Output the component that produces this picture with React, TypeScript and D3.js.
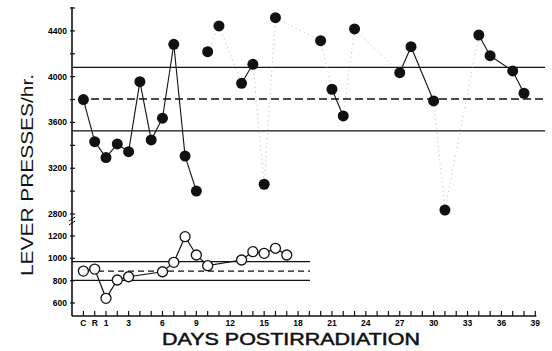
import * as d3 from 'd3';

// day positions: C = -1, R = 0
const tickDays = d3.range(-1, 40);
const tickLabels = ['C', 'R', '1', '3', '6', '9', '12', '15', '18', '21', '24', '27', '30', '33', '36', '39'];
const labelDays = [-1, 0, 1, 3, 6, 9, 12, 15, 18, 21, 24, 27, 30, 33, 36, 39];

// irradiated group (filled circles)
const topDays = [-1, 0, 1, 2, 3, 4, 5, 6, 7, 8, 9, 10, 11, 13, 14, 15, 16, 20, 21, 22, 23, 27, 28, 30, 31, 34, 35, 37, 38];
const topValues = [3800, 3432, 3293, 3412, 3345, 3956, 3447, 3637, 4283, 3306, 3000, 4218, 4443, 3942, 4108, 3060, 4515, 4314, 3890, 3657, 4417, 4035, 4262, 3788, 2835, 4364, 4183, 4050, 3855];
// style of the link from point i to point i+1 (s = solid, f = faint, n = none)
const topLinks = ['s', 's', 's', 's', 's', 's', 's', 's', 's', 's', 'n', 'f', 'f', 's', 'f', 'f', 'f', 'f', 's', 'f', 'f', 's', 's', 'f', 'f', 's', 's', 's'];
const topBands = [4082, 3805, 3526];

// control group (open circles)
const lowDays = [-1, 0, 1, 2, 3, 6, 7, 8, 9, 10, 13, 14, 15, 16, 17];
const lowValues = [886, 904, 642, 806, 835, 880, 964, 1194, 1030, 934, 985, 1060, 1045, 1090, 1030];
const lowBands = [970, 886, 803];

const topTicks = [4400, 4000, 3600, 3200, 2800];
const topMinor = [4600, 4200, 3800, 3400, 3000];
const lowTicks = [1200, 1000, 800, 600];

export default function App() {
  const width = 552;
  const height = 351;
  const axisX = 72;
  const axisY = 316;

  const x = d3.scaleLinear().domain([-1, 39]).range([83.4, 535.3]);
  const yTop = d3.scaleLinear().domain([2800, 4600]).range([214, 8]);
  const yLow = d3.scaleLinear().domain([600, 1200]).range([303, 236]);

  const lowLine = d3.line<number>()
    .x((_, i) => x(lowDays[i]))
    .y((v) => yLow(v));

  const tickFont = { fontFamily: 'Liberation Sans, Arial, sans-serif', fontWeight: 700, fontSize: '8.5px' };

  return (
    <svg width={width} height={height} style={{ position: 'absolute', left: 0, top: 0, background: '#fff' }}>
      {/* axes */}
      <line x1={axisX} y1={7} x2={axisX} y2={axisY} stroke="#111" strokeWidth={1.6} />
      <line x1={axisX} y1={axisY} x2={x(39) + 1} y2={axisY} stroke="#111" strokeWidth={1.6} />
      {/* axis break */}
      <line x1={axisX - 3} y1={221} x2={axisX + 3} y2={217} stroke="#111" strokeWidth={1} />
      <line x1={axisX - 3} y1={225} x2={axisX + 3} y2={221} stroke="#111" strokeWidth={1} />

      {topTicks.map((t) => (
        <g key={t}>
          <line x1={axisX - 2} x2={axisX + 3} y1={yTop(t)} y2={yTop(t)} stroke="#111" strokeWidth={1.2} />
          <text x={axisX - 5} y={yTop(t)} dy="0.35em" textAnchor="end" style={tickFont}>{t}</text>
        </g>
      ))}
      {topMinor.map((t) => (
        <line key={t} x1={axisX - 2} x2={axisX + 3} y1={yTop(t)} y2={yTop(t)} stroke="#111" strokeWidth={1.2} />
      ))}
      {lowTicks.map((t) => (
        <g key={t}>
          <line x1={axisX - 2} x2={axisX + 3} y1={yLow(t)} y2={yLow(t)} stroke="#111" strokeWidth={1.2} />
          <text x={axisX - 5} y={yLow(t)} dy="0.35em" textAnchor="end" style={tickFont}>{t}</text>
        </g>
      ))}

      {tickDays.map((d) => (
        <line key={d} x1={x(d)} x2={x(d)} y1={axisY} y2={axisY - 5} stroke="#111" strokeWidth={1.2} />
      ))}
      {labelDays.map((d, i) => (
        <text key={d} x={x(d)} y={axisY + 10} textAnchor="middle" style={tickFont}>{tickLabels[i]}</text>
      ))}

      {/* reference bands, irradiated */}
      <line x1={axisX} x2={545} y1={yTop(topBands[0])} y2={yTop(topBands[0])} stroke="#111" strokeWidth={1.3} />
      <line x1={91} x2={545} y1={yTop(topBands[1])} y2={yTop(topBands[1])} stroke="#111" strokeWidth={1.3} strokeDasharray="8,4" />
      <line x1={axisX} x2={545} y1={yTop(topBands[2])} y2={yTop(topBands[2])} stroke="#111" strokeWidth={1.3} />

      {/* reference bands, control */}
      <line x1={axisX} x2={310} y1={yLow(lowBands[0])} y2={yLow(lowBands[0])} stroke="#111" strokeWidth={1.3} />
      <line x1={98} x2={310} y1={yLow(lowBands[1])} y2={yLow(lowBands[1])} stroke="#111" strokeWidth={1.3} strokeDasharray="6,4" />
      <line x1={axisX} x2={310} y1={yLow(lowBands[2])} y2={yLow(lowBands[2])} stroke="#111" strokeWidth={1.3} />

      {/* irradiated series */}
      {topLinks.map((s, i) =>
        s === 'n' ? null : (
          <line
            key={i}
            x1={x(topDays[i])}
            y1={yTop(topValues[i])}
            x2={x(topDays[i + 1])}
            y2={yTop(topValues[i + 1])}
            stroke={s === 's' ? '#111' : '#aaa'}
            strokeWidth={s === 's' ? 1.1 : 0.6}
            strokeDasharray={s === 's' ? undefined : '1.5,3'}
          />
        )
      )}
      {topDays.map((d, i) => (
        <circle key={d} cx={x(d)} cy={yTop(topValues[i])} r={5.5} fill="#111" />
      ))}

      {/* control series */}
      <path d={lowLine(lowValues) ?? ''} fill="none" stroke="#111" strokeWidth={1.2} />
      {lowDays.map((d, i) => (
        <circle key={d} cx={x(d)} cy={yLow(lowValues[i])} r={5} fill="#fff" stroke="#111" strokeWidth={1.3} />
      ))}

      <text
        x={291}
        y={345}
        textAnchor="middle"
        textLength={258}
        lengthAdjust="spacingAndGlyphs"
        stroke="#111"
        strokeWidth={0.5}
        style={{ fontFamily: 'Liberation Sans, Arial, sans-serif', fontSize: '16.5px', fill: '#111' }}
      >
        DAYS POSTIRRADIATION
      </text>
      <text
        transform="translate(33, 175) rotate(-90)"
        textAnchor="middle"
        textLength={202}
        lengthAdjust="spacingAndGlyphs"
        style={{ fontFamily: 'Liberation Sans, Arial, sans-serif', fontSize: '17px', fill: '#111' }}
      >
        LEVER PRESSES/hr.
      </text>
    </svg>
  );
}
